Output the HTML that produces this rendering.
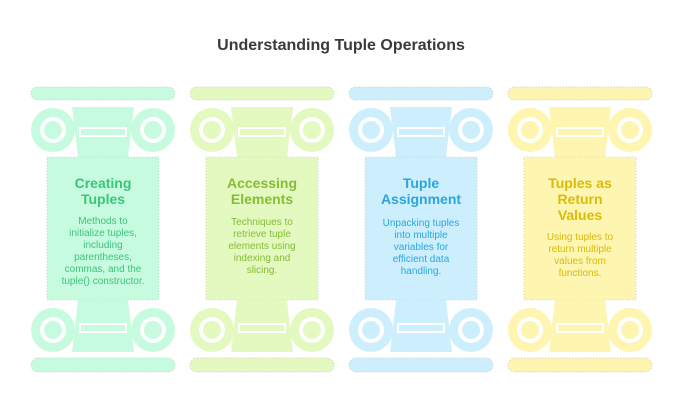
<!DOCTYPE html>
<html><head><meta charset="utf-8"><style>
html,body{margin:0;padding:0;background:#fff;}
svg{display:block;}
text{font-family:"Liberation Sans",sans-serif;}
</style></head><body>
<svg width="682" height="420" viewBox="0 0 682 420" xmlns="http://www.w3.org/2000/svg">
<defs>
<g id="col">
  <rect x="0" y="87" width="144" height="13" rx="6.5" stroke="#ccc" stroke-width="0.7" stroke-dasharray="1.5 1.5"/>
  <polygon points="41,107 103,107 97,157 47,157"/>
  <circle cx="22" cy="130" r="22"/><circle cx="122" cy="130" r="22"/>
  <circle cx="22" cy="130" r="13" fill="#fff"/><circle cx="122" cy="130" r="13" fill="#fff"/>
  <circle cx="22" cy="130" r="9"/><circle cx="122" cy="130" r="9"/>
  <rect x="48" y="127" width="48" height="10" fill="#fff"/>
  <rect x="50" y="129" width="44" height="6"/>
  <rect x="16" y="157" width="112" height="143" stroke="#bbb" stroke-width="0.6" stroke-dasharray="1 2"/>
  <polygon points="47,300 97,300 103,352 41,352"/>
  <circle cx="22" cy="330" r="22"/><circle cx="122" cy="330" r="22"/>
  <circle cx="22" cy="330" r="13" fill="#fff"/><circle cx="122" cy="330" r="13" fill="#fff"/>
  <circle cx="22" cy="330" r="9"/><circle cx="122" cy="330" r="9"/>
  <rect x="48" y="323" width="48" height="10" fill="#fff"/>
  <rect x="50" y="325" width="44" height="6"/>
  <rect x="0" y="358" width="144" height="14" rx="7" stroke="#ccc" stroke-width="0.7" stroke-dasharray="1.5 1.5"/>
</g>
</defs>
<text x="341" y="50" text-anchor="middle" font-size="16" font-weight="bold" fill="#3a3a3a">Understanding Tuple Operations</text>

<use href="#col" x="31" fill="#c6fbe0"/>
<use href="#col" x="190" fill="#e3f9c0"/>
<use href="#col" x="349" fill="#cdeffd"/>
<use href="#col" x="508" fill="#fdf5b0"/>

<g text-anchor="middle">
<g fill="#3cc57a"><text x="103" y="188" font-size="14" font-weight="bold">Creating</text><text x="103" y="204" font-size="14" font-weight="bold">Tuples</text>
<g font-size="10"><text x="103" y="224">Methods to</text><text x="103" y="236">initialize tuples,</text><text x="103" y="248">including</text><text x="103" y="260">parentheses,</text><text x="103" y="272">commas, and the</text><text x="103" y="284">tuple() constructor.</text></g></g>

<g fill="#86bd35"><text x="262" y="188" font-size="14" font-weight="bold">Accessing</text><text x="262" y="204" font-size="14" font-weight="bold">Elements</text>
<g font-size="10"><text x="262" y="225">Techniques to</text><text x="262" y="237">retrieve tuple</text><text x="262" y="249">elements using</text><text x="262" y="261">indexing and</text><text x="262" y="273">slicing.</text></g></g>

<g fill="#2aa6de"><text x="421" y="188" font-size="14" font-weight="bold">Tuple</text><text x="421" y="204" font-size="14" font-weight="bold">Assignment</text>
<g font-size="10"><text x="421" y="226">Unpacking tuples</text><text x="421" y="238">into multiple</text><text x="421" y="250">variables for</text><text x="421" y="262">efficient data</text><text x="421" y="274">handling.</text></g></g>

<g fill="#d9bb08"><text x="580" y="188" font-size="14" font-weight="bold">Tuples as</text><text x="580" y="204" font-size="14" font-weight="bold">Return</text><text x="580" y="220" font-size="14" font-weight="bold">Values</text>
<g font-size="10"><text x="580" y="240">Using tuples to</text><text x="580" y="252">return multiple</text><text x="580" y="264">values from</text><text x="580" y="276">functions.</text></g></g>
</g>
</svg>
</body></html>
